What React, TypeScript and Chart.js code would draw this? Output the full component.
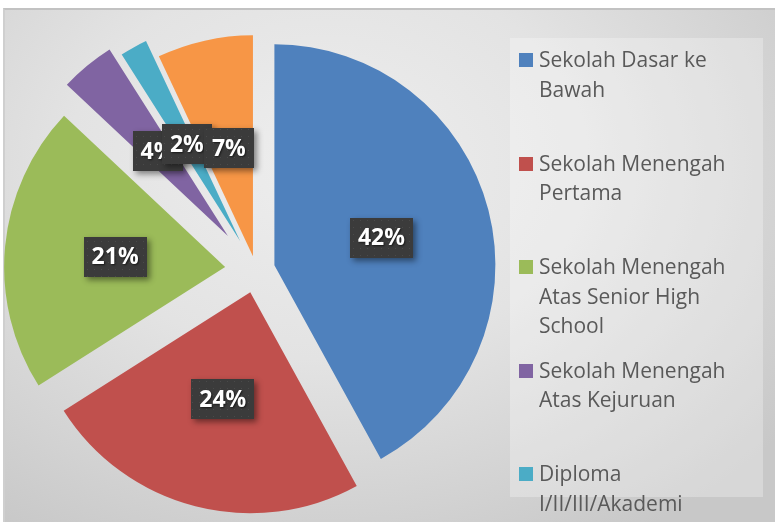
import React, { useEffect, useRef } from 'react';
import { Chart, registerables } from 'chart.js';

Chart.register(...registerables);

// ---- data ----
const categories: string[][] = [
  ['Sekolah Dasar ke', 'Bawah'],
  ['Sekolah Menengah', 'Pertama'],
  ['Sekolah Menengah', 'Atas Senior High', 'School'],
  ['Sekolah Menengah', 'Atas Kejuruan'],
  ['Diploma', 'I/II/III/Akademi'],
  ['Universitas'],
];
const shares: number[] = [42, 24, 21, 4, 2, 7];
const colors: string[] = ['#4f81bd', '#c0504d', '#9bbb59', '#8064a2', '#4bacc6', '#f79646'];

// explosion distance of each slice (px), like Excel's "point explosion"
const explodeStyle: number[] = [19, 23, 31, 44, 33, 14];

const explodePlugin = {
  id: 'explodeSlices',
  afterDatasetUpdate(chart: any, args: any) {
    const meta = args.meta;
    meta.data.forEach((arc: any, i: number) => {
      const d = explodeStyle[i] || 0;
      const mid = (arc.startAngle + arc.endAngle) / 2;
      arc.x += Math.cos(mid) * d;
      arc.y += Math.sin(mid) * d;
    });
  },
};

let dotPattern: CanvasPattern | null = null;
function getPattern(ctx: CanvasRenderingContext2D) {
  if (dotPattern) return dotPattern;
  const c = document.createElement('canvas');
  c.width = 7;
  c.height = 7;
  const p = c.getContext('2d')!;
  p.fillStyle = '#3b3b3b';
  p.fillRect(0, 0, 7, 7);
  p.fillStyle = '#4a4a4a';
  p.fillRect(3, 3, 1, 1);
  dotPattern = ctx.createPattern(c, 'repeat');
  return dotPattern;
}

const labelPlugin = {
  id: 'pctLabels',
  afterDatasetsDraw(chart: any) {
    const ctx: CanvasRenderingContext2D = chart.ctx;
    const meta = chart.getDatasetMeta(0);
    const data: number[] = chart.data.datasets[0].data;
    const total = data.reduce((a, b) => a + b, 0);
    ctx.save();
    ctx.font = 'bold 23px "Open Sans"';
    ctx.textAlign = 'center';
    ctx.textBaseline = 'middle';
    meta.data.forEach((arc: any, i: number) => {
      const { x, y } = arc.getCenterPoint();
      const text = Math.round((data[i] / total) * 100) + '%';
      const w = Math.round(ctx.measureText(text).width + 16);
      const h = 40;
      const bx = Math.round(x - w / 2);
      const by = Math.round(y - h / 2);
      ctx.save();
      ctx.shadowColor = 'rgba(0,0,0,0.45)';
      ctx.shadowBlur = 6;
      ctx.shadowOffsetX = 3;
      ctx.shadowOffsetY = 3;
      ctx.fillStyle = '#3b3b3b';
      ctx.fillRect(bx, by, w, h);
      ctx.restore();
      ctx.fillStyle = getPattern(ctx) || '#3b3b3b';
      ctx.fillRect(bx, by, w, h);
      ctx.save();
      ctx.shadowColor = 'rgba(0,0,0,0.6)';
      ctx.shadowBlur = 2;
      ctx.shadowOffsetX = 1;
      ctx.shadowOffsetY = 1;
      ctx.fillStyle = '#ffffff';
      ctx.fillText(text, x, y + 1);
      ctx.restore();
    });
    ctx.restore();
  },
};

export default function App() {
  const canvasRef = useRef<HTMLCanvasElement | null>(null);

  useEffect(() => {
    if (!canvasRef.current) return;
    const chart = new Chart(canvasRef.current, {
      type: 'pie',
      data: {
        labels: categories,
        datasets: [
          {
            data: shares,
            backgroundColor: colors,
            borderWidth: 0,
          },
        ],
      },
      options: {
        responsive: false,
        animation: false,
        radius: 221,
        layout: { padding: { left: 0, right: 263, top: 18, bottom: 0 } },
        plugins: {
          legend: { display: false },
          tooltip: { enabled: false },
        },
      } as any,
      plugins: [explodePlugin, labelPlugin],
    });
    return () => chart.destroy();
  }, []);

  return (
    <div
      style={{
        position: 'fixed',
        left: 0,
        top: 0,
        width: 775,
        height: 522,
        background: '#ffffff',
        overflow: 'hidden',
      }}
    >
      <div
        style={{
          position: 'absolute',
          left: 3,
          top: 8,
          right: 0,
          bottom: 0,
          borderTop: '2px solid #c2c2c2',
          borderLeft: '2px solid #cfcfcf',
          background:
            'radial-gradient(ellipse 75% 85% at 42% 30%, #eeeeee 0%, #e3e3e3 45%, #d2d2d2 80%, #c8c8c8 100%)',
        }}
      />
      <div
        style={{
          position: 'absolute',
          left: 510,
          top: 38,
          width: 253,
          height: 459,
          background: 'rgba(255,255,255,0.28)',
        }}
      />
      <canvas
        ref={canvasRef}
        width={775}
        height={522}
        style={{ position: 'absolute', left: 0, top: 0, width: 775, height: 522 }}
      />
      {categories.map((lines, i) => {
        const cy = 60 + i * 103.5;
        return (
          <React.Fragment key={i}>
            <div
              style={{
                position: 'absolute',
                left: 519,
                top: cy - 7,
                width: 14,
                height: 14,
                background: colors[i],
              }}
            />
            <div
              style={{
                position: 'absolute',
                left: 539,
                top: cy - 14.75,
                fontFamily: '"Open Sans", sans-serif',
                fontSize: 21,
                lineHeight: '29.5px',
                color: '#595959',
                whiteSpace: 'pre',
              }}
            >
              {lines.join('\n')}
            </div>
          </React.Fragment>
        );
      })}
    </div>
  );
}
